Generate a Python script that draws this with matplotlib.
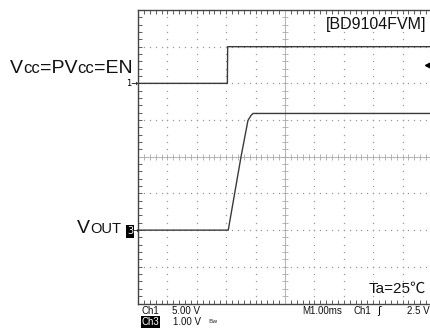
import numpy as np
import matplotlib
matplotlib.use("Agg")
import matplotlib.pyplot as plt

# =========================
# Data (read off the scope shot)
# =========================
# time in ms (1.00 ms/div, 10 div across)
CH1_T = [0.0, 3.04, 3.05, 10.0]
CH1_V = [0.0, 0.0, 5.0, 5.0]            # Vcc=PVcc=EN, 5.00 V/div
CH3_T = [0.0, 3.07, 3.50, 3.74, 3.84, 3.91, 10.0]
CH3_V = [0.0, 0.0, 1.98, 2.99, 3.12, 3.18, 3.18]   # VOUT, 1.00 V/div

CH1_SCALE, CH1_OFFSET = 5.0, 6.0        # V/div, ground level in div
CH3_SCALE, CH3_OFFSET = 1.0, 2.0
TRIG_LEVEL = 2.5                        # Ch1 trigger, V

W, H = 430, 329
N_X, N_Y = 10, 8

TRACE = "#3a3a3a"
GRID = "#9a9a9a"
EDGE = "#444444"

MAIN_FONT = ["Liberation Sans", "Noto Sans CJK JP", "DejaVu Sans"]
SCOPE_FONT = ["Liberation Sans", "DejaVu Sans"]


def px(x, y):
    return x / W, 1 - y / H


fig = plt.figure(figsize=(W / 100, H / 100), dpi=100)
ax = fig.add_axes([138 / W, (H - 303.5) / H, 294 / W, 293.5 / H])
ax.set_xlim(0, N_X)
ax.set_ylim(0, N_Y)

for s in ["left", "top", "bottom", "right"]:
    ax.spines[s].set_color(EDGE)
    ax.spines[s].set_linewidth(1.0)

minor_x = np.arange(0, N_X + 0.001, 0.2)
minor_y = np.arange(0, N_Y + 0.001, 0.2)
ax.set_xticks(minor_x)
ax.set_yticks(minor_y)
ax.tick_params(direction="in", length=3, width=0.6, color=EDGE,
               top=True, right=False, labelbottom=False, labelleft=False)

# dotted graticule
for gx in range(1, N_X):
    if gx == N_X // 2:
        continue
    ax.plot(np.full_like(minor_y, gx), minor_y, ls="none", marker="s",
            ms=0.9, mew=0, color=GRID)
for gy in range(1, N_Y):
    if gy == N_Y // 2:
        continue
    ax.plot(minor_x, np.full_like(minor_x, gy), ls="none", marker="s",
            ms=0.9, mew=0, color=GRID)

# center cross with tick marks
ax.axvline(N_X / 2, color="#b5b5b5", lw=0.7)
ax.axhline(N_Y / 2, color="#b5b5b5", lw=0.7)
ax.plot(minor_x, np.full_like(minor_x, N_Y / 2), ls="none", marker="|",
        ms=4, mew=0.6, color="#a8a8a8")
ax.plot(np.full_like(minor_y, N_X / 2), minor_y, ls="none", marker="_",
        ms=4, mew=0.6, color="#a8a8a8")

# traces
ch1 = CH1_OFFSET + np.array(CH1_V) / CH1_SCALE
ch3 = CH3_OFFSET + np.array(CH3_V) / CH3_SCALE
ax.plot(CH1_T, ch1, color=TRACE, lw=1.0)
ax.plot(CH3_T, ch3, color=TRACE, lw=1.0)

# trigger level marker at right edge
ax.plot([9.86], [CH1_OFFSET + TRIG_LEVEL / CH1_SCALE], marker="<", ms=4.5,
        color="black", clip_on=False)

# labels
fig.text(*px(426, 28.5), "[BD9104FVM]", fontsize=11.5, family=MAIN_FONT,
         ha="right", va="baseline", color="#111111")
fig.text(*px(426, 293), "Ta=25℃", fontsize=11, family=MAIN_FONT,
         ha="right", va="baseline", color="#111111")

renderer = fig.canvas.get_renderer()


def flow(x0, y0, pieces):
    x = x0
    for s, size in pieces:
        t = fig.text(*px(x, y0), s, fontsize=size, family=MAIN_FONT,
                     ha="left", va="baseline", color="#111111")
        x += t.get_window_extent(renderer).width


flow(10, 73.3, [("V", 14), ("cc", 12), ("=PV", 14), ("cc", 12), ("=EN", 14)])
flow(77, 232.7, [("V", 14), ("OUT", 10.5)])

# channel ground markers
fig.text(*px(138, 86.5), "1→", fontsize=6, family="DejaVu Sans",
         ha="right", va="baseline")
fig.text(*px(130, 234.5), "3", fontsize=7, family="DejaVu Sans", color="white",
         ha="center", va="baseline",
         bbox=dict(facecolor="black", edgecolor="none", pad=0.8))
fig.text(*px(138.5, 233.5), "→", fontsize=5, family="DejaVu Sans",
         ha="right", va="baseline")

# scope readouts
sk = dict(fontsize=7, family=SCOPE_FONT, va="baseline", color="#111111")
fig.text(*px(142, 314), "Ch1", ha="left", **sk)
fig.text(*px(172, 314), "5.00 V", ha="left", **sk)
fig.text(*px(142, 325), "Ch3", ha="left", color="white",
         fontsize=7, family=SCOPE_FONT, va="baseline",
         bbox=dict(facecolor="black", edgecolor="none", pad=0.4))
fig.text(*px(173, 325), "1.00 V", ha="left", **sk)
fig.text(*px(208, 323), "Bw", fontsize=4.5, family="DejaVu Sans",
         ha="left", va="baseline", color="#333333")
fig.text(*px(302, 314), "M1.00ms", ha="left", **sk)
fig.text(*px(353, 314), "Ch1", ha="left", **sk)
fig.text(*px(377, 314), "ʃ", fontsize=7.5, family="DejaVu Sans",
         ha="left", va="baseline")
fig.text(*px(430, 314), "2.5 V", ha="right", **sk)

fig.savefig("out.png", dpi=100)
